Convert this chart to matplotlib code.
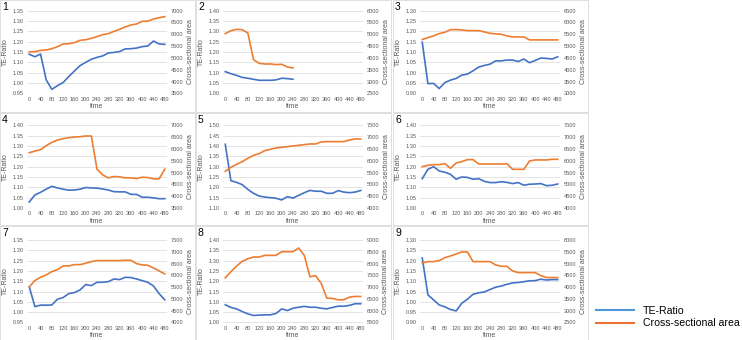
import matplotlib.pyplot as plt
from matplotlib.patches import Rectangle
from matplotlib.lines import Line2D

plt.rcParams['font.family'] = ['Liberation Sans', 'DejaVu Sans']

W, H = 742, 340
BLUE = '#4472C4'
ORANGE = '#ED7D31'
GRAY = '#595959'

# time points (s)
time = [0, 20, 40, 60, 80, 100, 120, 140, 160, 180, 200, 220, 240,
        260, 280, 300, 320, 340, 360, 380, 400, 420, 440, 460, 480]

# TE-Ratio (left axis) and cross-sectional area (right axis) per case
te1 = [1.139, 1.127, 1.140, 1.015, 0.969, 0.987, 1.002, 1.031, 1.058, 1.084, 1.100, 1.115, 1.124,
       1.131, 1.145, 1.148, 1.152, 1.165, 1.166, 1.169, 1.176, 1.179, 1.203, 1.189, 1.187]
ca1 = [5250, 5265, 5320, 5335, 5390, 5475, 5590, 5600, 5645, 5745, 5770, 5830, 5900,
       5985, 6025, 6125, 6210, 6310, 6395, 6435, 6550, 6560, 6645, 6705, 6745]

te2 = [1.105, 1.095, 1.087, 1.077, 1.073, 1.068, 1.063, 1.063, 1.063, 1.065, 1.073, 1.071, 1.068]
ca2 = [5026, 5153, 5210, 5195, 5055, 3926, 3770, 3742, 3742, 3714, 3728, 3615, 3573]

te3 = [1.147, 0.947, 0.948, 0.923, 0.952, 0.964, 0.972, 0.988, 0.993, 1.009, 1.027, 1.035, 1.041,
       1.057, 1.057, 1.061, 1.061, 1.054, 1.066, 1.048, 1.059, 1.071, 1.069, 1.066, 1.077]
ca3 = [5277, 5361, 5431, 5530, 5586, 5699, 5699, 5685, 5656, 5656, 5656, 5600, 5544,
       5516, 5502, 5431, 5389, 5389, 5389, 5263, 5263, 5263, 5263, 5263, 5263]

te4 = [1.029, 1.063, 1.076, 1.091, 1.105, 1.097, 1.091, 1.086, 1.087, 1.091, 1.099, 1.097, 1.096,
       1.092, 1.087, 1.079, 1.078, 1.078, 1.066, 1.066, 1.052, 1.052, 1.049, 1.045, 1.045]
ca4 = [5838, 5909, 5966, 6136, 6277, 6377, 6433, 6476, 6504, 6518, 6547, 6547, 5144,
       4903, 4775, 4832, 4818, 4775, 4775, 4747, 4804, 4790, 4733, 4733, 5144]

te5 = [1.408, 1.232, 1.224, 1.213, 1.190, 1.171, 1.158, 1.153, 1.150, 1.147, 1.139, 1.155, 1.148,
       1.161, 1.174, 1.185, 1.181, 1.181, 1.171, 1.171, 1.184, 1.177, 1.174, 1.177, 1.185]
ca5 = [5553, 5722, 5849, 5962, 6103, 6230, 6301, 6428, 6484, 6541, 6569, 6597, 6625,
       6653, 6682, 6710, 6710, 6795, 6809, 6809, 6809, 6809, 6879, 6921, 6921]

te6 = [1.142, 1.187, 1.200, 1.179, 1.173, 1.163, 1.139, 1.150, 1.148, 1.139, 1.142, 1.129, 1.123,
       1.123, 1.127, 1.124, 1.118, 1.123, 1.110, 1.115, 1.116, 1.118, 1.108, 1.110, 1.116]
ca6 = [5750, 5807, 5835, 5835, 5877, 5680, 5905, 5962, 6047, 6047, 5863, 5863, 5863,
       5863, 5863, 5877, 5637, 5637, 5637, 5990, 6033, 6033, 6033, 6061, 6061]

te7 = [1.123, 1.027, 1.034, 1.034, 1.035, 1.063, 1.071, 1.090, 1.095, 1.108, 1.134, 1.129, 1.145,
       1.145, 1.148, 1.161, 1.158, 1.169, 1.168, 1.161, 1.153, 1.145, 1.127, 1.090, 1.060]
ca7 = [5510, 5779, 5920, 6019, 6160, 6244, 6400, 6400, 6456, 6456, 6512, 6583, 6625,
       6625, 6625, 6625, 6625, 6639, 6639, 6498, 6442, 6428, 6315, 6188, 6061]

te8 = [1.086, 1.073, 1.066, 1.053, 1.042, 1.034, 1.036, 1.037, 1.037, 1.044, 1.066, 1.058, 1.069,
       1.074, 1.078, 1.074, 1.074, 1.069, 1.066, 1.073, 1.079, 1.079, 1.083, 1.091, 1.091]
ca8 = [7399, 7654, 7895, 8093, 8207, 8277, 8277, 8348, 8348, 8348, 8504, 8504, 8504,
       8660, 8348, 7441, 7484, 7158, 6534, 6520, 6464, 6464, 6577, 6605, 6605]

te9 = [1.213, 1.034, 1.010, 0.985, 0.976, 0.963, 0.956, 0.993, 1.013, 1.037, 1.044, 1.048, 1.060,
       1.071, 1.077, 1.085, 1.092, 1.094, 1.098, 1.102, 1.103, 1.110, 1.106, 1.108, 1.108]
ca9 = [5026, 5083, 5083, 5125, 5252, 5322, 5407, 5492, 5492, 5083, 5083, 5083, 5083,
       4942, 4885, 4885, 4688, 4617, 4617, 4617, 4617, 4490, 4406, 4406, 4406]

te_all = [te1, te2, te3, te4, te5, te6, te7, te8, te9]
ca_all = [ca1, ca2, ca3, ca4, ca5, ca6, ca7, ca8, ca9]
left_lim = [(0.95, 1.35), (1.00, 1.40), (0.90, 1.30),
            (1.00, 1.40), (1.10, 1.50), (1.00, 1.40),
            (0.95, 1.35), (1.00, 1.40), (0.90, 1.30)]
right_lim = [(3500, 7000), (2500, 6000), (3000, 6500),
             (3500, 7000), (4000, 7500), (4000, 7500),
             (4000, 7500), (5500, 9000), (2500, 6000)]
xticks = [0, 40, 80, 120, 160, 200, 240, 280, 320, 360, 400, 440, 480]

fig = plt.figure(figsize=(W / 100, H / 100), dpi=100)

col_x = [0, 196, 393]
row_y = [0, 113, 226]
row_h = [112, 112, 114]
top_px = [10.7, 125.3, 240.0]
bot_px = [93.3, 208.0, 322.5]

for i in range(9):
    r, c = divmod(i, 3)
    x0 = col_x[c]
    # panel frame
    fig.patches.append(Rectangle((x0 / W, 1 - (row_y[r] + row_h[r]) / H), 195 / W, row_h[r] / H,
                                 transform=fig.transFigure, fill=False, edgecolor='#D9D9D9', lw=0.6))
    left = (x0 + 27) / W
    width = 140 / W
    bottom = 1 - bot_px[r] / H
    height = (bot_px[r] - top_px[r]) / H
    ax = fig.add_axes([left, bottom, width, height])
    ax2 = ax.twinx()
    n = len(te_all[i])
    ax.plot(time[:n], te_all[i], color=BLUE, lw=1.2, zorder=3)
    ax2.plot(time[:n], ca_all[i], color=ORANGE, lw=1.2, zorder=3)
    lo, hi = left_lim[i]
    ax.set_ylim(lo, hi)
    ax.set_yticks([lo + k * 0.05 for k in range(9)])
    ax.set_yticklabels([f'{lo + k * 0.05:.2f}' for k in range(9)])
    lo2, hi2 = right_lim[i]
    ax2.set_ylim(lo2, hi2)
    ax2.set_yticks([lo2 + k * 500 for k in range(8)])
    ax.set_xlim(-8, 488)
    ax.set_xticks(xticks)
    ax.grid(axis='y', color='#D9D9D9', lw=0.5)
    ax.set_axisbelow(True)
    for a in (ax, ax2):
        for s in a.spines.values():
            s.set_visible(False)
        a.tick_params(length=0, labelsize=4.1, labelcolor=GRAY, pad=2.5)
    ax.set_xlabel('time', fontsize=5, color=GRAY, labelpad=1)
    ax.set_ylabel('TE-Ratio', fontsize=5, color=GRAY, labelpad=2.5)
    ax2.set_ylabel('Cross-sectional area', fontsize=5, color=GRAY, labelpad=2.5)
    fig.text((x0 + 2) / W, 1 - (row_y[r] + 2) / H, str(i + 1), fontsize=7.5, va='top', ha='left')

# legend
handles = [Line2D([], [], color='#4E95D9', lw=1.5), Line2D([], [], color='#E97132', lw=1.5)]
fig.legend(handles, ['TE-Ratio', 'Cross-sectional area'], loc='center left',
           bbox_to_anchor=(586 / W, 1 - 317 / H), frameon=False, fontsize=7.6,
           handlelength=3.6, handletextpad=0.9, labelspacing=0.25)

fig.savefig('out.png', dpi=100)
